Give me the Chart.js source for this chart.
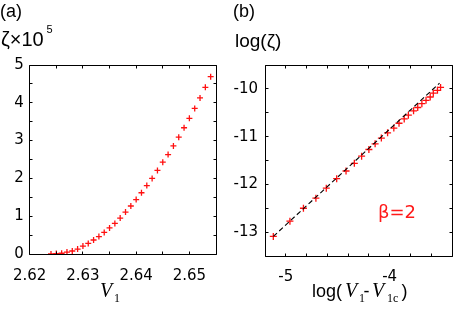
<!DOCTYPE html>
<html>
<head>
<meta charset="utf-8">
<script src="https://cdn.jsdelivr.net/npm/chart.js@4.4.0/dist/chart.umd.min.js"></script>
<style>
  html, body { margin: 0; padding: 0; background: #fff; }
  #wrap { position: relative; width: 464px; height: 310px; overflow: hidden; background: #fff; }
  canvas { position: absolute; top: 0; }
  .t { position: absolute; white-space: nowrap; color: #000; font-family: 'Liberation Sans', Arial, sans-serif; line-height: 1; }
  .dj { font-family: 'DejaVu Sans', sans-serif; }
  .ser { font-family: 'Liberation Serif', 'Times New Roman', serif; }
  .it { font-style: italic; }
</style>
</head>
<body>
<div id="wrap">
  <canvas id="ca" width="232" height="310" style="left:0px"></canvas>
  <canvas id="cb" width="232" height="310" style="left:232px"></canvas>

  <!-- panel (a) texts -->
  <div class="t" style="left:0px; top:1.5px; font-size:18px;">(a)</div>
  <div class="t" style="left:1px; top:29.3px; font-size:20px;">ζ×10</div>
  <div class="t" style="left:46.5px; top:24px; font-size:11px;">5</div>
  <div class="t ser it" style="left:100px; top:280px; font-size:20px;">V</div>
  <div class="t ser" style="left:114px; top:291.7px; font-size:12px;">1</div>

  <!-- panel (b) texts -->
  <div class="t" style="left:233px; top:1.5px; font-size:18px;">(b)</div>
  <div class="t" style="left:235px; top:30.6px; font-size:19px;">log(ζ)</div>
  <div class="t" style="left:312px; top:281.5px; font-size:18px;">log(</div>
  <div class="t ser it" style="left:345px; top:280px; font-size:20px;">V</div>
  <div class="t ser" style="left:359px; top:291.7px; font-size:12px;">1</div>
  <div class="t" style="left:363.5px; top:281.5px; font-size:18px;">-</div>
  <div class="t ser it" style="left:372px; top:280px; font-size:20px;">V</div>
  <div class="t ser" style="left:387px; top:291.7px; font-size:12px;">1c</div>
  <div class="t" style="left:401.5px; top:281.5px; font-size:18px;">)</div>
  <div class="t dj" style="left:378px; top:203px; font-size:18px; color:#ff1a1a;">β=2</div>
</div>
<script>
// ---- data ----
const v1Values = [2.624, 2.625, 2.626, 2.627, 2.628, 2.629, 2.630, 2.631, 2.632, 2.633,
                  2.634, 2.635, 2.636, 2.637, 2.638, 2.639, 2.640, 2.641, 2.642, 2.643,
                  2.644, 2.645, 2.646, 2.647, 2.648, 2.649, 2.650, 2.651, 2.652, 2.653, 2.654];
const zetaValues = [0.00, 0.01, 0.02, 0.05, 0.08, 0.13, 0.21, 0.28, 0.37, 0.46,
                    0.57, 0.69, 0.81, 0.95, 1.11, 1.27, 1.44, 1.62, 1.81, 2.00,
                    2.21, 2.43, 2.63, 2.86, 3.09, 3.34, 3.59, 3.85, 4.13, 4.41, 4.69];

const logDV = [-5.12, -4.96, -4.83, -4.71, -4.61, -4.51, -4.42, -4.34, -4.27, -4.20,
               -4.14, -4.08, -4.02, -3.96, -3.91, -3.86, -3.82, -3.77, -3.73, -3.69,
               -3.65, -3.61, -3.58, -3.54, -3.51];
const logZeta = [-13.09, -12.77, -12.50, -12.29, -12.08, -11.88, -11.72, -11.56, -11.41, -11.27,
                 -11.15, -11.03, -10.92, -10.82, -10.72, -10.63, -10.55, -10.46, -10.39, -10.31,
                 -10.24, -10.17, -10.09, -10.03, -9.97];

const fitX = [-5.12, -3.52];
const fitY = [-13.09, -9.88];

// tick settings
const leftXTicks = { min: 2.62, max: 2.655, step: 0.005 };
const leftYTicks = { min: 0, max: 5, step: 0.5 };
const rightXTicks = { min: -5.2, max: -3.4, step: 0.2 };
const rightYTicks = { min: -13.5, max: -9.5, step: 0.5 };

Chart.defaults.font.family = "'DejaVu Sans', sans-serif";
Chart.defaults.font.size = 15;
Chart.defaults.color = '#000';

const boxTicks = {
  id: 'boxTicks',
  afterDraw(chart) {
    const { ctx, chartArea: a, scales } = chart;
    const L = Math.floor(a.left) + 0.5, R = Math.floor(a.right) + 0.5;
    const T = Math.floor(a.top) + 0.5, B = Math.floor(a.bottom) + 0.5;
    const tl = 3;
    ctx.save();
    ctx.strokeStyle = '#000';
    ctx.lineWidth = 1;
    ctx.beginPath();
    ctx.rect(L, T, R - L, B - T);
    scales.x.ticks.forEach(t => {
      const p = Math.floor(scales.x.getPixelForValue(t.value)) + 0.5;
      ctx.moveTo(p, B); ctx.lineTo(p, B - tl);
      ctx.moveTo(p, T); ctx.lineTo(p, T + tl);
    });
    scales.y.ticks.forEach(t => {
      const p = Math.floor(scales.y.getPixelForValue(t.value)) + 0.5;
      ctx.moveTo(L, p); ctx.lineTo(L + tl, p);
      ctx.moveTo(R, p); ctx.lineTo(R - tl, p);
    });
    ctx.stroke();
    ctx.restore();
  }
};

function isMult(v, m) { const q = v / m; return Math.abs(q - Math.round(q)) < 1e-6; }

function makeScales(xt, yt, xLabel, yLabel, yWidth, xHeight, xPad, yPad) {
  return {
    x: {
      type: 'linear', min: xt.min, max: xt.max,
      grid: { display: false, drawTicks: false }, border: { display: false },
      ticks: { stepSize: xt.step, autoSkip: false, maxRotation: 0, padding: xPad, callback: xLabel },
      afterFit(s) { s.height = xHeight; }
    },
    y: {
      type: 'linear', min: yt.min, max: yt.max,
      grid: { display: false, drawTicks: false }, border: { display: false },
      ticks: { stepSize: yt.step, autoSkip: false, padding: yPad, callback: yLabel },
      afterFit(s) { s.width = yWidth; }
    }
  };
}

const commonPlugins = { legend: { display: false }, tooltip: { enabled: false }, title: { display: false } };

new Chart(document.getElementById('ca'), {
  type: 'scatter',
  data: {
    datasets: [{
      data: v1Values.map((v, i) => ({ x: v, y: zetaValues[i] })),
      pointStyle: 'cross', pointRadius: 3, borderColor: '#ff1010', backgroundColor: '#ff1010', borderWidth: 1.3,
      showLine: false
    }]
  },
  options: {
    responsive: false, animation: false, events: [],
    layout: { padding: { left: 0, right: 16, top: 65, bottom: 0 } },
    plugins: commonPlugins,
    scales: makeScales(leftXTicks, leftYTicks,
      v => (isMult(v, 0.01) && v < 2.6545) ? v.toFixed(2) : '',
      v => isMult(v, 1) ? String(Math.round(v)) : '',
      26, 56, 13, 6)
  },
  plugins: [boxTicks]
});

new Chart(document.getElementById('cb'), {
  type: 'scatter',
  data: {
    datasets: [{
      data: fitX.map((v, i) => ({ x: v, y: fitY[i] })),
      showLine: true, borderColor: '#000', borderWidth: 1.1, borderDash: [5, 3],
      pointRadius: 0, fill: false
    }, {
      data: logDV.map((v, i) => ({ x: v, y: logZeta[i] })),
      pointStyle: 'cross', pointRadius: 3.5, borderColor: '#ff1010', backgroundColor: '#ff1010', borderWidth: 1.3,
      showLine: false
    }]
  },
  options: {
    responsive: false, animation: false, events: [],
    layout: { padding: { left: 0, right: 7, top: 65, bottom: 0 } },
    plugins: commonPlugins,
    scales: makeScales(rightXTicks, rightYTicks,
      v => isMult(v, 1) ? String(Math.round(v)) : '',
      v => isMult(v, 1) ? String(Math.round(v)) : '',
      33, 54, 12, 7)
  },
  plugins: [boxTicks]
});
</script>
</body>
</html>
